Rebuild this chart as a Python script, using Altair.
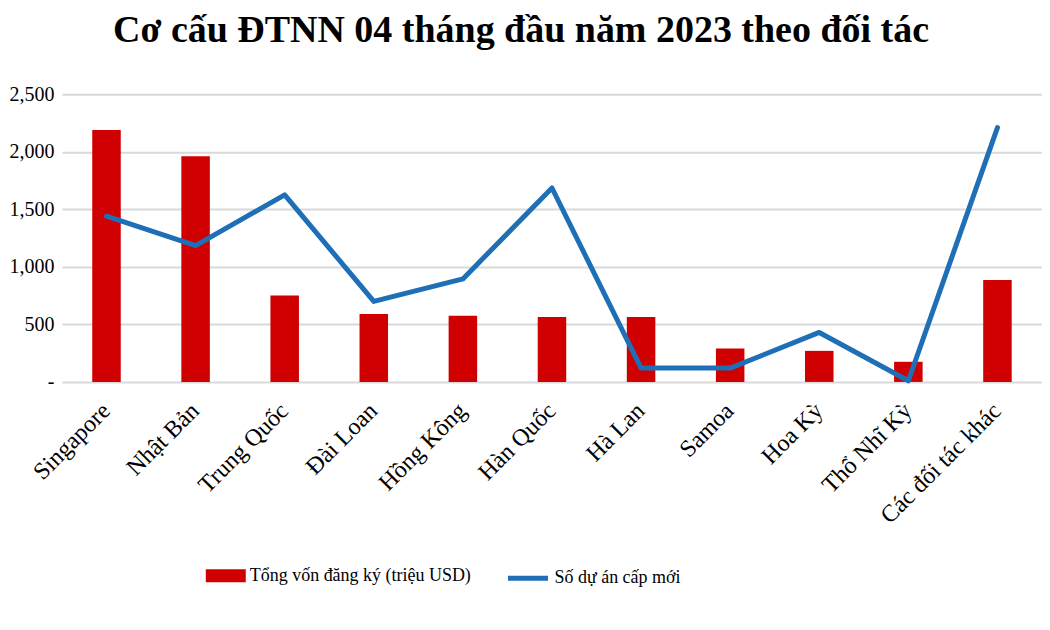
import altair as alt
import pandas as pd

categories = ["Singapore", "Nhật Bản", "Trung Quốc", "Đài Loan", "Hồng Kông",
              "Hàn Quốc", "Hà Lan", "Samoa", "Hoa Kỳ", "Thổ Nhĩ Kỳ", "Các đối tác khác"]
von_dang_ky = [2190, 1960, 750, 590, 575, 565, 565, 290, 270, 175, 885]
so_du_an = [1440, 1185, 1625, 700, 895, 1685, 120, 120, 430, 10, 2210]
series_bar = "Tổng vốn đăng ký (triệu USD)"
series_line = "Số dự án cấp mới"
y_ticks = [0, 500, 1000, 1500, 2000, 2500]

df = pd.DataFrame({
    "cat": categories,
    "von": von_dang_ky,
    "duan": so_du_an,
    "s1": [series_bar] * len(categories),
    "s2": [series_line] * len(categories),
})

FONT = "Liberation Serif"
LEFT = 54

x = alt.X("cat:N", sort=categories,
          scale=alt.Scale(paddingInner=0.68, paddingOuter=0.34),
          axis=alt.Axis(title=None, labelAngle=-45, labelFont=FONT, labelFontSize=24,
                        labelColor="black", ticks=False, domain=False, labelPadding=25,
                        labelAlign="right", labelBaseline="middle", labelLimit=0))

yscale = alt.Scale(domain=[0, 2500])
yaxis = alt.Axis(title=None, values=y_ticks,
                 labelExpr="datum.value == 0 ? '-' : format(datum.value, ',')",
                 grid=True, gridColor="#d9d9d9", gridWidth=2, ticks=False,
                 domain=False, labelFont=FONT, labelFontSize=20,
                 labelColor="black", labelPadding=8)

bars = alt.Chart(df).mark_bar(color="#d00000").encode(
    x=x,
    y=alt.Y("von:Q", scale=yscale, axis=yaxis),
    color=alt.Color("s1:N", scale=alt.Scale(range=["#d00000"]),
                    legend=alt.Legend(title=None, orient="none", legendX=206 - 8 - LEFT,
                                      legendY=462,
                                      symbolType="M-1,-0.33L1,-0.33L1,0.33L-1,0.33Z",
                                      symbolSize=1600, symbolStrokeWidth=0,
                                      labelFont=FONT, labelFontSize=18, labelColor="black",
                                      labelOffset=4, labelLimit=0)),
)

line = alt.Chart(df).mark_line(strokeWidth=5, strokeCap="round", strokeJoin="round").encode(
    x=x,
    y=alt.Y("duan:Q", scale=yscale, axis=yaxis),
    color=alt.Color("s2:N", scale=alt.Scale(range=["#1f6fb6"]),
                    legend=alt.Legend(title=None, orient="none", legendX=506 - 8 - LEFT,
                                      legendY=462,
                                      symbolType="stroke", symbolSize=1600,
                                      symbolStrokeWidth=5,
                                      labelFont=FONT, labelFontSize=18, labelColor="black",
                                      labelOffset=4, labelLimit=0)),
)

chart = alt.layer(bars, line).resolve_scale(color="independent").properties(
    width=1043 - 8 - LEFT, height=288,
    autosize=alt.AutoSizeParams(type="none"),
    padding={"left": LEFT, "top": 86, "right": 0, "bottom": 230},
    background="white",
    title=alt.Title("Cơ cấu ĐTNN 04 tháng đầu năm 2023 theo đối tác",
                    font=FONT, fontSize=38, fontWeight="bold", color="black",
                    anchor="middle", offset=34, dx=-31),
).configure_view(stroke=None)

chart.save("out.html", embed_options={"renderer": "svg", "actions": False})
